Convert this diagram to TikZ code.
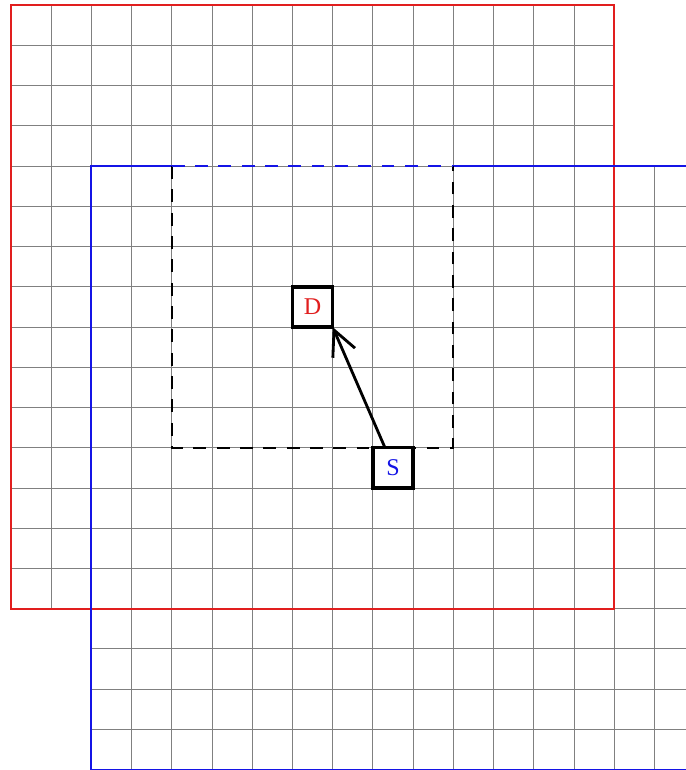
\documentclass[tikz,border=0pt]{standalone}
\usepackage{fontspec}
\setmainfont{Liberation Serif}
\usetikzlibrary{arrows.meta,calc}
\definecolor{redline}{RGB}{225,30,30}
\definecolor{blueline}{RGB}{20,20,230}
\tikzset{
  gridline/.style={line width=0.65pt, draw=black!50},
  redsquare/.style={line width=1.3pt, draw=redline},
  bluesquare/.style={line width=1.3pt, draw=blueline},
  dashbox/.style={line width=1.3pt, dash pattern=on 9pt off 7.5pt},
  cellbox/.style={draw=black, line width=2.4pt, fill=white, minimum size=1cm,
    inner sep=0pt, outer sep=0pt, font=\fontsize{17}{17}\selectfont},
  movearrow/.style={line width=2pt, -{Straight Barb[length=0.62cm, width=0.6cm]}}
}
\begin{document}
\begin{tikzpicture}
\useasboundingbox (-0.27,0.13) rectangle (16.78,-19.01);
% grids
\draw[gridline] (0,-15) grid (15,0);
\draw[gridline] (2,-19) grid (17,-4);
% red square
\draw[redsquare] (0,0) rectangle (15,-15);
% blue square (top edge partly replaced by dashed segment)
\draw[bluesquare] (4,-4) -- (2,-4) -- (2,-19) -- (17,-19) -- (17,-4) -- (11,-4);
% dashed window
\draw[dashbox] (4,-4) -- (4,-11) -- (11,-11) -- (11,-4);
\draw[dashbox, draw=blueline] (4,-4) -- (11,-4);
% cells
\node[cellbox, text=redline] (D) at (7.5,-7.5) {D};
\node[cellbox, text=blueline] (S) at (9.5,-11.5) {S};
\draw[movearrow] ($(S.north west)!0.3!(S.north east)$) -- (D.south east);
\end{tikzpicture}
\end{document}
